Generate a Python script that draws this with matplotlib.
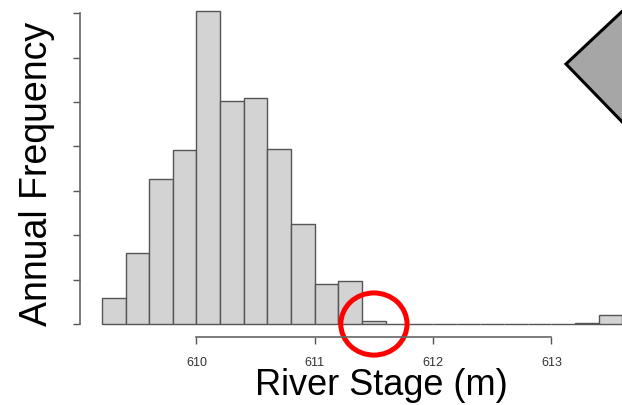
import numpy as np
import matplotlib
matplotlib.use("Agg")
import matplotlib.pyplot as plt
from matplotlib.patches import Ellipse, Polygon

plt.rcParams['font.family'] = ['Liberation Sans', 'DejaVu Sans']

# histogram of river stage (bin left edges, width 0.2 m)
bin_left = [609.2, 609.4, 609.6, 609.8, 610.0, 610.2, 610.4, 610.6, 610.8, 611.0, 611.2,
            611.4, 611.6, 611.8, 612.0, 612.2, 612.4, 612.6, 612.8, 613.0, 613.2, 613.4]
freq = [2.9, 8.0, 16.3, 19.6, 35.2, 25.1, 25.5, 19.7, 11.3, 4.5, 4.8,
        0.35, 0, 0, 0, 0, 0, 0, 0, 0, 0.15, 1.05]
bin_width = 0.2
xticks = [610, 611, 612, 613]
yticks = [0, 5, 10, 15, 20, 25, 30, 35]

W, H = 622, 406
fig = plt.figure(figsize=(W / 100, H / 100), dpi=100)
ax = fig.add_axes([0, 0, 1, 1])
ax.set_facecolor('none')

ax.bar(bin_left, freq, width=bin_width, align='edge', color='#d3d3d3',
       edgecolor='#555555', linewidth=1.0)

# pixel-matched limits
ax.set_xlim(608.339, 613.597)
ax.set_ylim(-9.12, 36.6)

for s in ['top', 'right']:
    ax.spines[s].set_visible(False)
ax.spines['left'].set_position(('data', 609.015))
ax.spines['left'].set_bounds(0, 35)
ax.spines['bottom'].set_position(('data', -1.46))
ax.spines['bottom'].set_bounds(610, 613)
for s in ['left', 'bottom']:
    ax.spines[s].set_color('#666666')
    ax.spines[s].set_linewidth(1.2)

ax.set_yticks(yticks)
ax.set_yticklabels([])
ax.set_xticks(xticks)
ax.set_xticklabels([str(t) for t in xticks])
ax.tick_params(direction='out', length=5, width=1.0, color='#555555')
ax.tick_params(axis='x', labelsize=9, labelcolor='#333333', pad=8.5)

fig.text(381 / W, 1 - 395 / H, 'River Stage (m)', fontsize=26,
         ha='center', va='baseline')
fig.text(47 / W, 1 - 173.5 / H, 'Annual Frequency', fontsize=27, rotation=90,
         rotation_mode='anchor', ha='center', va='baseline')

# red circle highlighting the high-stage bin
ax.add_patch(Ellipse((611.5, 0), width=0.56, height=7.0, fill=False,
                     edgecolor='#ff0000', linewidth=3.6, clip_on=False))

# gray diamond at top right
pts = [(566, 65), (630, 5), (700, 65), (630, 131)]
fig.add_artist(Polygon([(x / W, 1 - y / H) for x, y in pts], closed=True,
                       transform=fig.transFigure, facecolor='#a6a6a6',
                       edgecolor='black', linewidth=2.2))

fig.savefig('out.png', dpi=100)
